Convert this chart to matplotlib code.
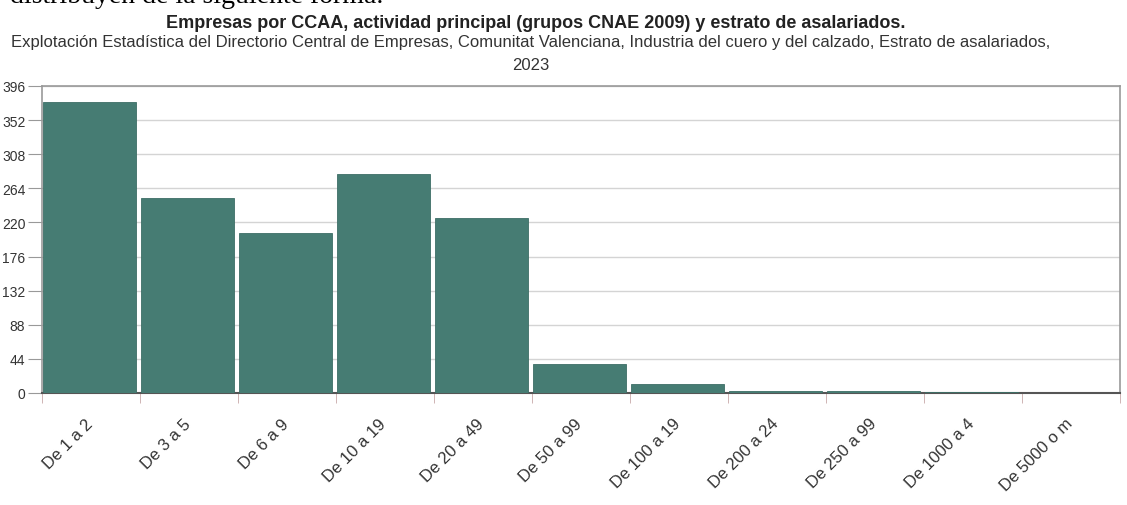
import matplotlib
matplotlib.use('Agg')
import matplotlib.pyplot as plt
import matplotlib.transforms as mtransforms
import numpy as np

# datos
estratos = ['De 1 a 2', 'De 3 a 5', 'De 6 a 9', 'De 10 a 19', 'De 20 a 49', 'De 50 a 99',
            'De 100 a 19', 'De 200 a 24', 'De 250 a 99', 'De 1000 a 4', 'De 5000 o m']
empresas = [376, 251, 206, 282, 226, 37, 11, 3, 3, 1, 0]
yticks = [0, 44, 88, 132, 176, 220, 264, 308, 352, 396]

plt.rcParams['font.family'] = ['Liberation Sans', 'DejaVu Sans']

fig = plt.figure(figsize=(11.27, 5.06), dpi=100)
ax = fig.add_axes([42/1127, 1 - 394/506, (1120-42)/1127, (394-87)/506])

x = np.arange(len(estratos))
ax.bar(x - 0.49, empresas, width=0.945, align='edge', color='#467c73',
       edgecolor='#3d6e66', linewidth=0.6, zorder=3)

ax.set_xlim(-0.5, len(estratos) - 0.5)
ax.set_ylim(0, 396)
ax.set_yticks(yticks)
ax.set_yticklabels([str(v) for v in yticks], fontsize=10, color='#333333')
ax.yaxis.grid(True, color='#d4d4d4', linewidth=1, zorder=0)
ax.tick_params(axis='y', length=10, color='#999999', pad=2)

ax.set_xticks(x)
ax.set_xticklabels(estratos, fontsize=12, color='#333333', rotation=45,
                   ha='right', va='center', rotation_mode='anchor')
ax.tick_params(axis='x', which='major', length=0, pad=20)
ax.set_xticks(np.arange(len(estratos) + 1) - 0.5, minor=True)
ax.tick_params(axis='x', which='minor', length=7, color='#c8a8a8')
off = mtransforms.ScaledTranslation(-1/100, 0, fig.dpi_scale_trans)
for lab in ax.get_xticklabels():
    lab.set_transform(lab.get_transform() + off)

for s in ['top', 'right', 'left']:
    ax.spines[s].set_color('#999999')
    ax.spines[s].set_linewidth(1.2)
ax.spines['bottom'].set_color('#555555')
ax.spines['bottom'].set_linewidth(1.5)

fig.text(10/1127, 1 - 3/506, 'distribuyen de la siguiente forma.', fontsize=20,
         family='Liberation Serif', va='baseline', ha='left', color='black')
fig.text(0.475, 1 - 23/506, 'Empresas por CCAA, actividad principal (grupos CNAE 2009) y estrato de asalariados.',
         fontsize=13, fontweight='bold', ha='center', va='center', color='#222222')
fig.text(0.471, 1 - 43/506, 'Explotación Estadística del Directorio Central de Empresas, Comunitat Valenciana, '
         'Industria del cuero y del calzado, Estrato de asalariados,',
         fontsize=12, ha='center', va='center', color='#333333')
fig.text(0.471, 1 - 65/506, '2023', fontsize=12, ha='center', va='center', color='#333333')

fig.savefig('out.png', dpi=100)
